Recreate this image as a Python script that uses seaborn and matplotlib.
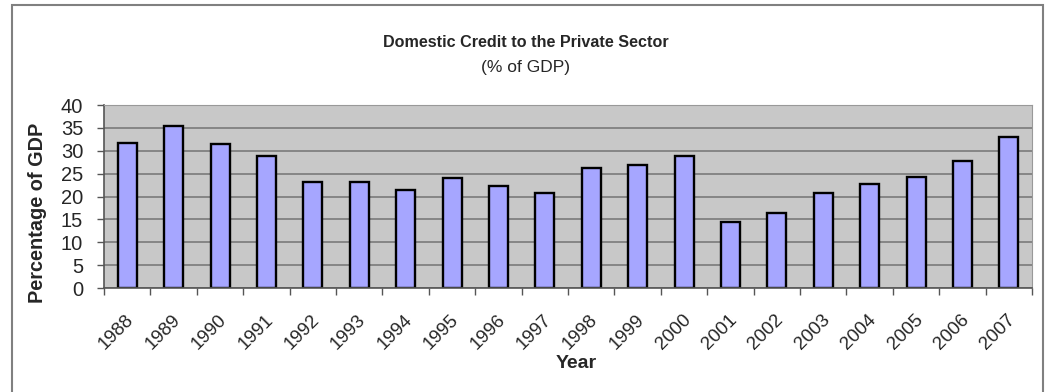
import matplotlib
matplotlib.use('Agg')
import matplotlib.pyplot as plt
import matplotlib.transforms as mtransforms
import seaborn as sns
import pandas as pd
from matplotlib.patches import Rectangle

# Data
years = [str(y) for y in range(1988, 2008)]
credit = [31.6, 35.5, 31.5, 28.8, 23.1, 23.1, 21.5, 24.0, 22.4, 20.7,
          26.2, 27.0, 28.8, 14.4, 16.5, 20.8, 22.8, 24.2, 27.7, 33.0]
yticks = [0, 5, 10, 15, 20, 25, 30, 35, 40]

df = pd.DataFrame({'Year': years, 'Credit': credit})

sns.set_style('white')
plt.rcParams['font.family'] = ['Liberation Sans', 'DejaVu Sans']

fig = plt.figure(figsize=(10.51, 3.92), dpi=100)
ax = fig.add_axes([0.099, 0.265, 0.883, 0.467])

# outer chart border
fig.patches.append(Rectangle((12 / 1051, -0.05), 1031 / 1051, 1.05 - 5 / 392,
                             transform=fig.transFigure, fill=False,
                             edgecolor='#808080', linewidth=1.5))

ax.set_facecolor('#c8c8c8')
ax.set_axisbelow(True)
ax.yaxis.grid(True, color='#7a7a7a', linewidth=1.2)

sns.barplot(data=df, x='Year', y='Credit', color='#a6a6ff', saturation=1,
            width=0.41, edgecolor='black', linewidth=1.7, ax=ax)

ax.set_xlim(-0.5, len(years) - 0.5)
ax.set_ylim(0, 40)
ax.set_yticks(yticks)

# tick marks between categories like the original
ax.set_xticks([i - 0.5 for i in range(len(years) + 1)], minor=True)
ax.tick_params(axis='x', which='major', length=0, pad=21)
ax.tick_params(axis='x', which='minor', length=5, width=1, color='#555555', bottom=True)
ax.tick_params(axis='y', length=5, width=1, color='#555555', left=True, labelsize=14.5, pad=10)
ax.set_xticks(range(len(years)))
ax.set_xticklabels(years, rotation=45, ha='right', va='center',
                   rotation_mode='anchor', fontsize=13.5)
shift = mtransforms.ScaledTranslation(4 / 100, 0, fig.dpi_scale_trans)
for lab in ax.get_xticklabels():
    lab.set_transform(lab.get_transform() + shift)

for side in ['top', 'right']:
    ax.spines[side].set_color('#999999')
for side in ['left', 'bottom']:
    ax.spines[side].set_color('#555555')
    ax.spines[side].set_linewidth(1.2)

ax.set_ylabel('Percentage of GDP', fontsize=14.3, fontweight='bold', va='center')
ax.yaxis.set_label_coords(-0.072, 0.41)
ax.set_xlabel('Year', fontsize=14, fontweight='bold', va='center')
ax.xaxis.set_label_coords(0.509, -0.41)

fig.text(0.5, 0.892, 'Domestic Credit to the Private Sector', ha='center',
         va='center', fontsize=11.6, fontweight='bold')
fig.text(0.5, 0.828, '(% of GDP)', ha='center', va='center', fontsize=12.5)

fig.savefig('out.png', dpi=100)
